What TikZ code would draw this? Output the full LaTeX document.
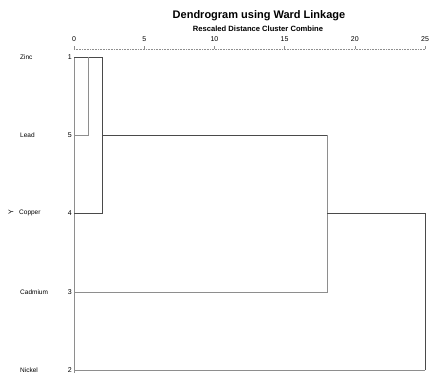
\documentclass[tikz,border=0pt]{standalone}
\usepackage{fontspec}
\setmainfont{Liberation Sans}
\usetikzlibrary{positioning}
\definecolor{linkdark}{HTML}{4A4A4A}
\definecolor{linklight}{HTML}{8E8E8E}
\tikzset{
  leaf/.style={font=\fontsize{6.5}{7}\selectfont,anchor=west,inner sep=0pt},
  rank/.style={font=\fontsize{7}{8}\selectfont,anchor=east,inner sep=1pt},
  ticklabel/.style={font=\fontsize{7}{8}\selectfont,inner sep=0pt},
  darklink/.style={draw=linkdark,line width=0.9pt},
  lightlink/.style={draw=linklight,line width=0.9pt},
  axisline/.style={draw=linklight,densely dotted,line width=0.6pt}
}
\begin{document}
\begin{tikzpicture}[x=1pt,y=-1pt]
        \useasboundingbox (0,0) rectangle (429,373);
        \node[font=\bfseries\fontsize{11}{12}\selectfont] (title) at (259,16) {Dendrogram using Ward Linkage};
        \node[font=\bfseries\fontsize{7.6}{8}\selectfont] (sub) at (258,29) {Rescaled Distance Cluster Combine};
        % axis
        \coordinate (a0) at (74,49);
        \coordinate (a25) at (425,49);
        \draw[axisline] (a0) -- (a25);
        \foreach \v in {0,5,...,25} {
          \coordinate (t\v) at (74+14.04*\v,49);
          \draw[linklight,line width=0.6pt] (t\v) -- ++(0,-3);
          \node[ticklabel] (n\v) at (74+14.04*\v,39) {\v};
        }
        % leaves
        \node[leaf] (zinc) at (20,57) {Zinc};
        \node[leaf] (lead) at (20,135) {Lead};
        \node[leaf] (copper) at (19,213) {Copper};
        \node[leaf] (cadmium) at (20,292) {Cadmium};
        \node[leaf] (nickel) at (20,370) {Nickel};
        \node[font=\fontsize{7}{8}\selectfont,rotate=90,inner sep=0pt] (ylab) at (11,212) {Y};
        \node[rank] (r1) at (73,57) {1};
        \node[rank] (r5) at (73,135) {5};
        \node[rank] (r4) at (73,213) {4};
        \node[rank] (r3) at (73,292) {3};
        \node[rank] (r2) at (73,370) {2};
        \coordinate (l1) at (74,57);
        \coordinate (l5) at (74,135);
        \coordinate (l4) at (74,213);
        \coordinate (l3) at (74,292);
        \coordinate (l2) at (74,370);
        \coordinate (base) at (74,373);
        % merges
        \coordinate (m1a) at (88,57);
        \coordinate (m1b) at (88,135);
        \coordinate (m2a) at (102,57);
        \coordinate (m2m) at (102,135);
        \coordinate (m2b) at (102,213);
        \coordinate (m3a) at (327,135);
        \coordinate (m3m) at (327,213);
        \coordinate (m3b) at (327,292);
        \coordinate (m4a) at (425,213);
        \coordinate (m4b) at (425,370);
        \draw[lightlink] (l1) -- (base);
        \draw[darklink] (l1) -- (m2a);
        \draw[lightlink] (m1a) -- (m1b) -- (l5);
        \draw[darklink] (m2a) -- (m2b) -- (l4);
        \draw[darklink] (m2m) -- (m3a);
        \draw[lightlink] (m3a) -- (m3b) -- (l3);
        \draw[darklink] (m3m) -- (m4a) -- (m4b);
        \draw[lightlink] (m4b) -- (l2);
      \end{tikzpicture}
\end{document}
